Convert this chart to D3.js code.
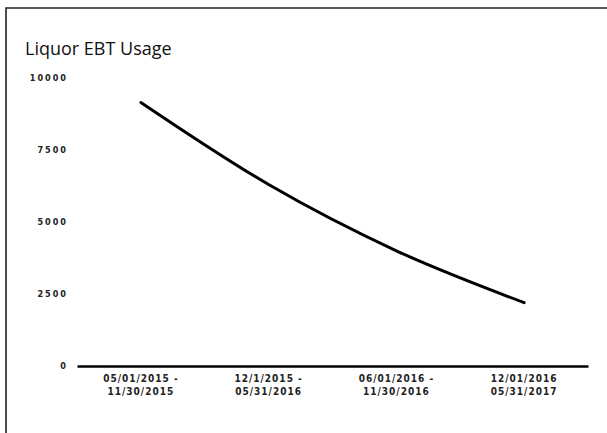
<!DOCTYPE html>
<html>
<head>
<meta charset="utf-8">
<script src="https://cdn.jsdelivr.net/npm/d3@7"></script>
<style>
  html, body { margin: 0; padding: 0; background: #fff; }
  svg { display: block; }
</style>
</head>
<body>
<svg id="chart" width="607" height="433"></svg>
<script>
const title = "Liquor EBT Usage";
const periodStart = ["05/01/2015 -", "12/1/2015 -", "06/01/2016 -", "12/01/2016"];
const periodEnd = ["11/30/2015", "05/31/2016", "11/30/2016", "05/31/2017"];
const usage = [9150, 6300, 4000, 2200];
const yTicks = [0, 2500, 5000, 7500, 10000];

const svg = d3.select("#chart");

// frame (scanned page border)
svg.append("path")
  .attr("d", `M6,433 L6,8 L607,8`)
  .attr("fill", "none").attr("stroke", "#222").attr("stroke-width", 1.6);

svg.append("text")
  .attr("x", 25).attr("y", 55)
  .attr("font-family", "Open Sans, sans-serif")
  .attr("font-size", 18)
  .attr("fill", "#111")
  .text(title);

const x = d3.scaleBand().domain(d3.range(usage.length)).range([77, 588]);
const y = d3.scaleLinear().domain([0, 10000]).range([366, 78]);

// y axis labels
const yAxis = d3.axisLeft(y).tickValues(yTicks).tickSize(0).tickPadding(0)
  .tickFormat(d3.format("d"));
const gy = svg.append("g").attr("transform", "translate(68,0)").call(yAxis);
gy.select(".domain").remove();
gy.selectAll("text")
  .attr("font-family", "DejaVu Sans Condensed, DejaVu Sans, sans-serif")
  .attr("font-size", 9).attr("font-weight", "bold")
  .attr("letter-spacing", 2).attr("fill", "#222");

// x axis
const xAxis = d3.axisBottom(x).tickSize(0).tickFormat(() => "");
const gx = svg.append("g").attr("transform", "translate(0,366)").call(xAxis);
gx.select(".domain").attr("stroke", "#000").attr("stroke-width", 2.5);
gx.selectAll(".tick").each(function(d) {
  const t = d3.select(this).select("text")
    .attr("font-family", "DejaVu Sans Condensed, DejaVu Sans, sans-serif")
    .attr("font-size", 10).attr("font-weight", "bold")
    .attr("letter-spacing", 1).attr("fill", "#222")
    .attr("y", 0).attr("dy", null);
  t.append("tspan").attr("x", 0).attr("y", 16).text(periodStart[d]);
  t.append("tspan").attr("x", 0).attr("y", 29).text(periodEnd[d]);
});

// line
const line = d3.line()
  .x((d, i) => x(i) + x.bandwidth() / 2)
  .y(d => y(d))
  .curve(d3.curveMonotoneX);
svg.append("path")
  .datum(usage)
  .attr("d", line)
  .attr("fill", "none")
  .attr("stroke", "#000")
  .attr("stroke-width", 3)
  .attr("stroke-linecap", "round");
</script>
</body>
</html>
